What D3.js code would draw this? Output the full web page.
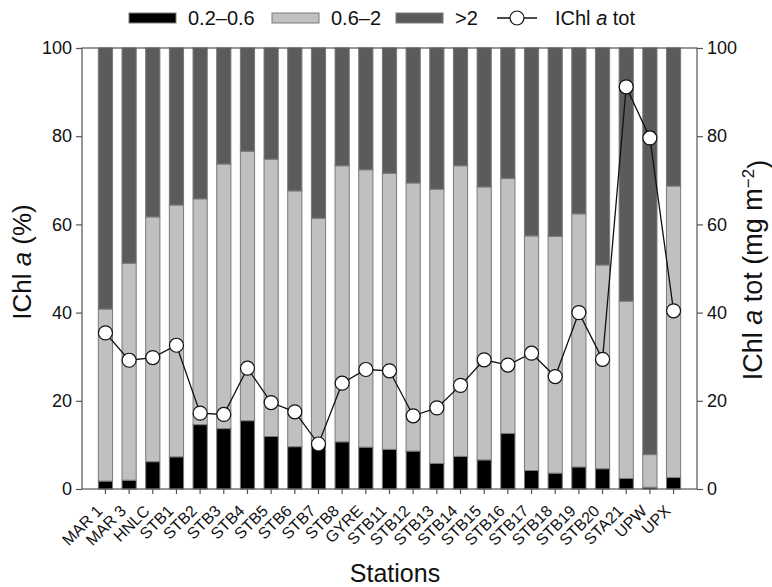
<!DOCTYPE html>
<html>
<head>
  <script src="https://d3js.org/d3.v7.min.js"></script>
  <style>
    body { margin: 0; background: #fff; }
    text { font-family: "Liberation Sans", Arial, sans-serif; fill: #111; }
  </style>
</head>
<body>
  <div id="chart_div"></div>

  <script>
    // Stations and size-fraction shares (%)
    var stations = ["MAR 1", "MAR 3", "HNLC", "STB1", "STB2", "STB3", "STB4", "STB5", "STB6", "STB7",
      "STB8", "GYRE", "STB11", "STB12", "STB13", "STB14", "STB15", "STB16", "STB17", "STB18",
      "STB19", "STB20", "STA21", "UPW", "UPX"];
    var pico = [1.8, 2.0, 6.2, 7.3, 14.6, 13.7, 15.5, 11.9, 9.6, 11.0, 10.7, 9.5, 9.0, 8.6, 5.8,
      7.4, 6.6, 12.6, 4.2, 3.6, 5.0, 4.6, 2.4, 0.4, 2.6];
    var nano = [39.0, 49.2, 55.5, 57.1, 51.2, 60.0, 61.1, 62.9, 58.0, 50.4, 62.6, 62.9, 62.6, 60.8, 62.2,
      65.9, 61.9, 57.8, 53.2, 53.7, 57.4, 46.2, 40.2, 7.4, 66.1];
    var micro = [59.2, 48.8, 38.3, 35.6, 34.2, 26.3, 23.4, 25.2, 32.4, 38.6, 26.7, 27.6, 28.4, 30.6, 32.0,
      26.7, 31.5, 29.6, 42.6, 42.7, 37.6, 49.2, 57.4, 92.2, 31.3];
    // integrated Chl a total (mg m-2)
    var chlTot = [35.4, 29.2, 29.8, 32.6, 17.2, 16.9, 27.4, 19.6, 17.5, 10.2, 24.0, 27.1, 26.8, 16.6, 18.4,
      23.5, 29.3, 28.1, 30.8, 25.5, 40.0, 29.4, 91.2, 79.6, 40.4];
    var yTicks = [0, 20, 40, 60, 80, 100];

    var keys = ["pico", "nano", "micro"];
    var colors = { pico: "#000000", nano: "#c0c0c0", micro: "#5b5b5b" };

    var W = 772, H = 587;
    var pLeft = 82, pRight = 697, pTop = 48, pBottom = 489;

    var svg = d3.select("#chart_div").append("svg")
      .attr("width", W).attr("height", H);

    var x = d3.scaleBand()
      .domain(stations)
      .range([pLeft, pRight])
      .paddingInner(0.4)
      .paddingOuter(0.69);

    var y = d3.scaleLinear().domain([0, 100]).range([pBottom, pTop]);
    var y2 = d3.scaleLinear().domain([0, 100]).range([pBottom, pTop]);

    var table = stations.map(function(s, i) {
      return { station: s, pico: pico[i], nano: nano[i], micro: micro[i], tot: chlTot[i] };
    });

    var series = d3.stack().keys(keys)(table);

    // stacked bars
    svg.append("g").selectAll("g")
      .data(series)
      .enter().append("g")
      .attr("fill", function(d) { return colors[d.key]; })
      .selectAll("rect")
      .data(function(d) { return d; })
      .enter().append("rect")
      .attr("x", function(d) { return x(d.data.station); })
      .attr("y", function(d) { return y(d[1]); })
      .attr("width", x.bandwidth())
      .attr("height", function(d) { return y(d[0]) - y(d[1]); })
      .attr("stroke", "#7a7a7a")
      .attr("stroke-width", 1);

    // frame
    svg.append("rect")
      .attr("x", pLeft).attr("y", pTop)
      .attr("width", pRight - pLeft).attr("height", pBottom - pTop)
      .attr("fill", "none").attr("stroke", "#555").attr("stroke-width", 1.2);

    // left axis
    var gL = svg.append("g")
      .attr("transform", "translate(" + pLeft + ",0)")
      .call(d3.axisLeft(y).tickValues(yTicks).tickSize(6).tickPadding(4));
    // right axis
    var gR = svg.append("g")
      .attr("transform", "translate(" + pRight + ",0)")
      .call(d3.axisRight(y2).tickValues(yTicks).tickSize(6).tickPadding(4));
    // bottom axis
    var gB = svg.append("g")
      .attr("transform", "translate(0," + pBottom + ")")
      .call(d3.axisBottom(x).tickSize(5));

    [gL, gR, gB].forEach(function(g) {
      g.select(".domain").remove();
      g.selectAll("line").attr("stroke", "#555").attr("stroke-width", 1.2);
    });
    gL.selectAll("text").style("font-size", "18px").attr("fill", "#111");
    gR.selectAll("text").style("font-size", "18px").attr("fill", "#111");
    gB.selectAll("text")
      .style("font-size", "16px")
      .attr("fill", "#111")
      .attr("text-anchor", "end")
      .attr("x", 0).attr("y", 0).attr("dy", 0)
      .attr("transform", "translate(-2,23) rotate(-45)");

    // Chl a tot line
    var line = d3.line()
      .x(function(d) { return x(d.station) + x.bandwidth() / 2; })
      .y(function(d) { return y2(d.tot); });

    svg.append("path")
      .datum(table)
      .attr("d", line)
      .attr("fill", "none")
      .attr("stroke", "#111")
      .attr("stroke-width", 1.3);

    svg.append("g").selectAll("circle")
      .data(table)
      .enter().append("circle")
      .attr("cx", function(d) { return x(d.station) + x.bandwidth() / 2; })
      .attr("cy", function(d) { return y2(d.tot); })
      .attr("r", 7)
      .attr("fill", "#fff")
      .attr("stroke", "#111")
      .attr("stroke-width", 1.2);

    // axis titles
    var tl = svg.append("text")
      .attr("transform", "translate(31,262) rotate(-90)")
      .attr("text-anchor", "middle")
      .style("font-size", "26px");
    tl.append("tspan").text("IChl ");
    tl.append("tspan").style("font-style", "italic").text("a");
    tl.append("tspan").text(" (%)");

    var tr = svg.append("text")
      .attr("transform", "translate(762,270) rotate(-90)")
      .attr("text-anchor", "middle")
      .style("font-size", "27px");
    tr.append("tspan").text("IChl ");
    tr.append("tspan").style("font-style", "italic").text("a");
    tr.append("tspan").text(" tot (mg m");
    tr.append("tspan").attr("dy", "-0.45em").style("font-size", "17px").text("\u22122");
    tr.append("tspan").attr("dy", "0.45em").text(")");

    svg.append("text")
      .attr("x", 395)
      .attr("y", 582)
      .attr("text-anchor", "middle")
      .style("font-size", "25px")
      .text("Stations");

    // legend
    var legendItems = [
      { key: "pico", label: "0.2\u20130.6", x: 129 },
      { key: "nano", label: "0.6\u20132", x: 272 },
      { key: "micro", label: ">2", x: 396 }
    ];
    var lg = svg.append("g");
    lg.selectAll("rect")
      .data(legendItems)
      .enter().append("rect")
      .attr("x", function(d) { return d.x; })
      .attr("y", 13)
      .attr("width", 47)
      .attr("height", 10)
      .attr("fill", function(d) { return colors[d.key]; })
      .attr("stroke", "#7a7a7a");
    lg.selectAll("text")
      .data(legendItems)
      .enter().append("text")
      .attr("x", function(d) { return d.x + 59; })
      .attr("y", 25)
      .style("font-size", "20px")
      .text(function(d) { return d.label; });

    lg.append("line")
      .attr("x1", 497).attr("x2", 537).attr("y1", 18).attr("y2", 18)
      .attr("stroke", "#111").attr("stroke-width", 1.3);
    lg.append("circle")
      .attr("cx", 517).attr("cy", 18).attr("r", 7)
      .attr("fill", "#fff").attr("stroke", "#111").attr("stroke-width", 1.2);
    var lt = lg.append("text").attr("x", 555).attr("y", 25).style("font-size", "20px");
    lt.append("tspan").text("IChl ");
    lt.append("tspan").style("font-style", "italic").text("a");
    lt.append("tspan").text(" tot");
  </script>
</body>
</html>
